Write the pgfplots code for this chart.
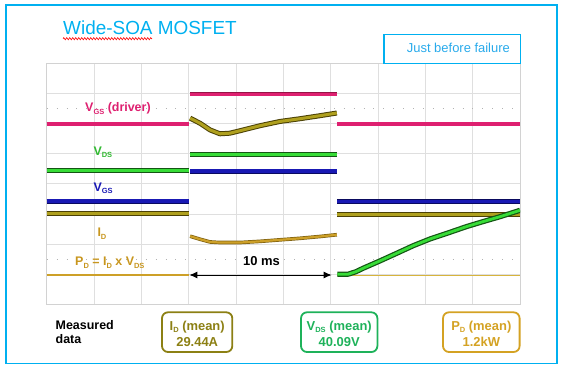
\documentclass[border=0pt]{standalone}
\usepackage{pgfplots}
\pgfplotsset{compat=1.18}
\usepackage{fontspec}
\setmainfont{Liberation Sans}
\usetikzlibrary{arrows.meta,decorations.pathmorphing}
\definecolor{skyb}{RGB}{0,176,240}
\definecolor{skyt}{RGB}{40,170,235}
\definecolor{magC}{RGB}{222,32,112}
\definecolor{magD}{RGB}{150,20,70}
\definecolor{grnC}{RGB}{55,220,55}
\definecolor{grnD}{RGB}{20,85,20}
\definecolor{grnT}{RGB}{50,185,50}
\definecolor{bluC}{RGB}{25,25,180}
\definecolor{bluD}{RGB}{10,10,95}
\definecolor{olvC}{RGB}{175,160,30}
\definecolor{olvD}{RGB}{75,65,5}
\definecolor{gldC}{RGB}{205,160,40}
\definecolor{gldL}{RGB}{215,180,60}
\definecolor{gldD}{RGB}{125,95,15}
\definecolor{gldT}{RGB}{200,150,30}
\definecolor{idbox}{RGB}{140,128,20}
\definecolor{vdsbox}{RGB}{30,178,90}
\definecolor{pdbox}{RGB}{212,162,35}
\newcommand\sub[1]{\raisebox{-0.22em}{\fontsize{7.5}{8}\selectfont #1}}
\begin{document}
\begin{tikzpicture}[x=1bp,y=1bp]
\useasboundingbox (0,0) rectangle (563,371);
\begin{axis}[at={(46.7bp,66.7bp)}, anchor=south west, scale only axis,
  width=473.3bp, height=241bp, xmin=0, xmax=10, ymin=0, ymax=8,
  xtick={0,...,10}, ytick={0,...,8}, xticklabels={}, yticklabels={},
  major tick length=0pt, grid=major,
  major grid style={draw=gray!25, line width=0.7bp},
  axis line style={draw=gray!35, line width=0.9bp},
  extra y ticks={1.5,6.5}, extra y tick labels={},
  extra y tick style={grid=major, major grid style={draw=gray!60, line width=0.9bp, dash pattern=on 0.9bp off 9bp}},
  every axis plot/.append style={no marks, line cap=butt, line join=round}]
% PD trace (gold)
\addplot[draw=gldC, line width=2.5bp] coordinates {(0,0.97) (3.01,0.97)};
\addplot[draw=gldC, line width=2.2bp, preaction={draw=gldD, line width=3.6bp}] coordinates {
(3.03,2.26) (3.24,2.16) (3.45,2.07) (3.66,2.05) (4.08,2.05) (4.51,2.09) (4.93,2.14) (5.35,2.19) (5.77,2.25) (6.13,2.31)};
\addplot[draw=gldL, line width=1.2bp] coordinates {(6.14,0.95) (10,0.95)};
% ID trace (olive)
\addplot[draw=olvC, line width=3bp, preaction={draw=olvD, line width=5bp}] coordinates {(0,3.0) (3.01,3.0)};
\addplot[draw=olvC, line width=3bp, preaction={draw=olvD, line width=5bp}] coordinates {
(3.03,6.18) (3.24,6.01) (3.45,5.79) (3.66,5.66) (3.87,5.68) (4.08,5.76) (4.51,5.93) (4.93,6.07) (5.35,6.16) (5.77,6.26) (6.13,6.35)};
\addplot[draw=olvC, line width=3bp, preaction={draw=olvD, line width=5bp}] coordinates {(6.14,2.99) (10,2.99)};
% VGS (blue)
\addplot[draw=bluC, line width=3.6bp, preaction={draw=bluD, line width=5bp}] coordinates {(0,3.42) (3.01,3.42)};
\addplot[draw=bluC, line width=3.6bp, preaction={draw=bluD, line width=5bp}] coordinates {(3.03,4.42) (6.13,4.42)};
\addplot[draw=bluC, line width=3.6bp, preaction={draw=bluD, line width=5bp}] coordinates {(6.14,3.41) (10,3.41)};
% VGS driver (magenta)
\addplot[draw=magC, line width=3.4bp, preaction={draw=magD, line width=4.6bp}] coordinates {(0,5.98) (3.01,5.98)};
\addplot[draw=magC, line width=3bp, preaction={draw=magD, line width=4bp}] coordinates {(3.03,6.97) (6.13,6.97)};
\addplot[draw=magC, line width=3.4bp, preaction={draw=magD, line width=4.6bp}] coordinates {(6.14,5.98) (10,5.98)};
% VDS (green)
\addplot[draw=grnC, line width=2.6bp, preaction={draw=grnD, line width=5.4bp}] coordinates {(0,4.44) (3.01,4.44)};
\addplot[draw=grnC, line width=2.8bp, preaction={draw=grnD, line width=5.4bp}] coordinates {(3.03,4.97) (6.13,4.97)};
\addplot[draw=grnC, line width=2.8bp, preaction={draw=grnD, line width=5.2bp}] coordinates {
(6.14,1.0) (6.37,1.0) (6.53,1.08) (6.69,1.2) (7.04,1.44) (7.39,1.69) (7.75,1.95) (8.10,2.17) (8.50,2.38) (8.87,2.58) (9.23,2.75) (9.58,2.91) (10,3.12)};
\end{axis}
% outer frame and header
\draw[skyb, line width=1.5bp] (6,7.7) rectangle (557,366);
\node[anchor=base west, inner sep=0, text=skyb, font=\fontsize{19}{22}\selectfont] at (63,336.7) {Wide-SOA MOSFET};
\draw[red, line width=0.6bp, decorate, decoration={zigzag, amplitude=1.1bp, segment length=3bp}] (63,332.3) -- (152,332.3);
\draw[skyb, line width=1.3bp] (384,307.7) rectangle (520.7,336.7);
\node[anchor=base west, inner sep=0, text=skyt, font=\fontsize{13}{15}\selectfont] at (406.7,318.7) {Just before failure};
% trace labels
\node[anchor=base west, inner sep=0, text=magC, font=\bfseries\fontsize{12.5}{15}\selectfont] at (85,259.3) {V\sub{GS} (driver)};
\node[anchor=base west, inner sep=0, text=grnT, font=\bfseries\fontsize{12.5}{15}\selectfont] at (93.3,216) {V\sub{DS}};
\node[anchor=base west, inner sep=0, text=bluC, font=\bfseries\fontsize{12.5}{15}\selectfont] at (93.3,180) {V\sub{GS}};
\node[anchor=base west, inner sep=0, text=gldT, font=\bfseries\fontsize{12.5}{15}\selectfont] at (97.3,134.3) {I\sub{D}};
\node[anchor=base west, inner sep=0, text=gldT, font=\bfseries\fontsize{12.5}{15}\selectfont] at (75,105.3) {P\sub{D} = I\sub{D} x V\sub{DS}};
% 10 ms arrow
\draw[black, line width=1bp, {Latex[length=8bp,width=7bp]}-{Latex[length=8bp,width=7bp]}] (189.3,96) -- (331.7,96);
\node[anchor=base, inner sep=0, font=\bfseries\fontsize{13}{15}\selectfont] at (261.5,105.3) {10 ms};
% measured data
\node[anchor=base west, inner sep=0, font=\bfseries\fontsize{12.5}{15}\selectfont] at (55.5,42) {Measured};
\node[anchor=base west, inner sep=0, font=\bfseries\fontsize{12.5}{15}\selectfont] at (55.5,27.7) {data};
\draw[idbox, line width=1.8bp, rounded corners=6bp] (162,19) rectangle (232.3,58.7);
\node[anchor=base, inner sep=0, text=idbox, font=\bfseries\fontsize{13}{15}\selectfont] at (197.2,41) {I\sub{D} (mean)};
\node[anchor=base, inner sep=0, text=idbox, font=\bfseries\fontsize{13}{15}\selectfont] at (197.2,24.3) {29.44A};
\draw[vdsbox, line width=1.8bp, rounded corners=6bp] (301,19) rectangle (377.4,58.7);
\node[anchor=base, inner sep=0, text=vdsbox, font=\bfseries\fontsize{13}{15}\selectfont] at (339.2,41) {V\sub{DS} (mean)};
\node[anchor=base, inner sep=0, text=vdsbox, font=\bfseries\fontsize{13}{15}\selectfont] at (339.2,24.3) {40.09V};
\draw[pdbox, line width=1.8bp, rounded corners=6bp] (443,19) rectangle (519.6,58.7);
\node[anchor=base, inner sep=0, text=pdbox, font=\bfseries\fontsize{13}{15}\selectfont] at (481.3,41) {P\sub{D} (mean)};
\node[anchor=base, inner sep=0, text=pdbox, font=\bfseries\fontsize{13}{15}\selectfont] at (481.3,24.3) {1.2kW};
\end{tikzpicture}
\end{document}
